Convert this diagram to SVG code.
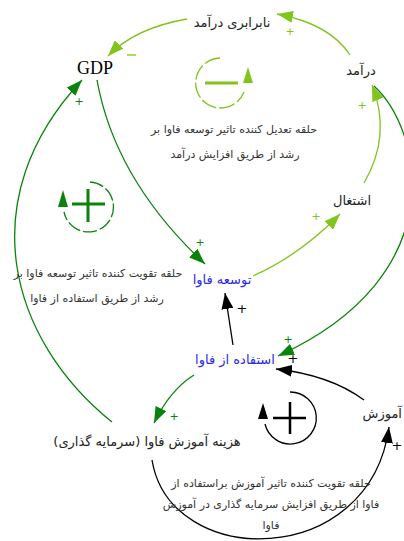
<svg xmlns="http://www.w3.org/2000/svg" width="404" height="541" viewBox="0 0 404 541">
<defs>
<style>
.e{fill:none;stroke-width:1.3}
.yg{stroke:#80c41c}
.dg{stroke:#0a830a}
.bk{stroke:#000}
.n{font-family:"DejaVu Sans",sans-serif;font-size:13px;fill:#222;text-anchor:middle}
.b{fill:#2a2ae8}
.lt{font-family:"DejaVu Sans",sans-serif;font-size:11px;fill:#333;text-anchor:middle}
.pl{font-family:"DejaVu Sans",sans-serif;text-anchor:middle}
</style>
<marker id="ayg" viewBox="0 0 16 12" refX="16" refY="6" markerWidth="16" markerHeight="12" markerUnits="userSpaceOnUse" orient="auto"><path d="M0,0 L16,6 L0,12 z" fill="#80c41c"/></marker>
<marker id="adg" viewBox="0 0 16 12" refX="16" refY="6" markerWidth="16" markerHeight="12" markerUnits="userSpaceOnUse" orient="auto"><path d="M0,0 L16,6 L0,12 z" fill="#0a830a"/></marker>
<marker id="abk" viewBox="0 0 16 12" refX="16" refY="6" markerWidth="16" markerHeight="12" markerUnits="userSpaceOnUse" orient="auto"><path d="M0,0 L16,6 L0,12 z" fill="#000"/></marker>
</defs>
<rect width="404" height="541" fill="#fff"/>

<g id="connectors">
<path class="e yg" d="M350,55 Q330,24 277,14" marker-end="url(#ayg)"/>
<path class="e yg" d="M187,19 Q135,28 108,56" marker-end="url(#ayg)"/>
<path class="e dg" d="M97,80 Q115,180 205,264" marker-end="url(#adg)"/>
<path class="e yg" d="M253,276 Q300,255 340,214" marker-end="url(#ayg)"/>
<path class="e yg" d="M364,183 Q392,135 372,85" marker-end="url(#ayg)"/>
<path class="e dg" d="M374,86 C422,130 455,275 278,356" marker-end="url(#adg)"/>
<path class="e bk" d="M233,345 L225,293" marker-end="url(#abk)"/>
<path class="e bk" d="M364,400 Q330,375 276,369" marker-end="url(#abk)"/>
<path class="e bk" d="M152,460 C170,570 370,570 389,427" marker-end="url(#abk)"/>
<path class="e dg" d="M194,375 Q170,390 154,423" marker-end="url(#adg)"/>
<path class="e dg" d="M112,422 C10,340 -30,200 82,80" marker-end="url(#adg)"/>
<g class="pl">
<text x="290" y="35" font-size="11" fill="#80c41c">+</text>
<line x1="127" y1="55" x2="136" y2="55" stroke="#80c41c" stroke-width="1.3"/>
<text x="200" y="246" font-size="11" fill="#0a830a">+</text>
<text x="316" y="220" font-size="11" fill="#80c41c">+</text>
<text x="362" y="109" font-size="11" fill="#80c41c">+</text>
<text x="288" y="343" font-size="11" fill="#0a830a">+</text>
<text x="293" y="363" font-size="13" fill="#000">+</text>
<text x="242" y="313" font-size="13" fill="#000">+</text>
<text x="397" y="450" font-size="13" fill="#000">+</text>
<text x="174" y="420" font-size="11" fill="#0a830a">+</text>
<text x="79" y="105" font-size="11" fill="#0a830a">+</text>
</g>
</g>

<g id="loop-balancing">
<path d="M220,58 A25,25 0 1,0 244,92" fill="none" stroke="#80c41c" stroke-width="1.3" stroke-dasharray="16 3"/>
<polygon points="248,67 253,83 243,83" fill="#80c41c"/>
<line x1="205" y1="83" x2="238" y2="83" stroke="#80c41c" stroke-width="3"/>
<text class="lt" x="234" y="133">حلقه تعدیل کننده تاثیر توسعه فاوا بر</text>
<text class="lt" x="235" y="158">رشد از طریق افزایش درآمد</text>
</g>

<g id="loop-reinforcing-1">
<path d="M90,182 A25,25 0 1,1 64,212" fill="none" stroke="#0a830a" stroke-width="1.3" stroke-dasharray="14 3"/>
<polygon points="63,190 68,207 58,207" fill="#0a830a"/>
<line x1="72" y1="204" x2="105" y2="204" stroke="#0a830a" stroke-width="3"/>
<line x1="88" y1="189" x2="88" y2="222" stroke="#0a830a" stroke-width="3"/>
<text class="lt" x="98" y="277">حلقه تقویت کننده تاثیر توسعه فاوا بر</text>
<text class="lt" x="97" y="302">رشد از طریق استفاده از فاوا</text>
</g>

<g id="loop-reinforcing-2">
<path d="M290,392 A26,26 0 1,1 265,424" fill="none" stroke="#000" stroke-width="1.3"/>
<polygon points="263,403 268,419 258,419" fill="#000"/>
<line x1="273" y1="418" x2="306" y2="418" stroke="#000" stroke-width="2.5"/>
<line x1="290" y1="402" x2="290" y2="434" stroke="#000" stroke-width="2.5"/>
<text class="lt" x="271" y="487">حلقه تقویت کننده تاثیر آموزش براستفاده از</text>
<text class="lt" x="271" y="508">فاوا از طریق افزایش سرمایه گذاری در آموزش</text>
<text class="lt" x="271" y="529">فاوا</text>
</g>

<g id="node-nabarabari"><text class="n" x="232" y="27">نابرابری درآمد</text></g>
<g id="node-gdp"><text x="77" y="74" font-family="Liberation Serif, serif" font-size="18" fill="#000">GDP</text></g>
<g id="node-daramad"><text class="n" x="361" y="75">درآمد</text></g>
<g id="node-eshteghal"><text class="n" x="352" y="205">اشتغال</text></g>
<g id="node-tosee"><text class="n b" x="222" y="284">توسعه فاوا</text></g>
<g id="node-estefade"><text class="n b" x="235" y="364">استفاده از فاوا</text></g>
<g id="node-hazine"><text class="n" x="147" y="446">هزینه آموزش فاوا (سرمایه گذاری)</text></g>
<g id="node-amoozesh"><text class="n" x="402" y="418" style="text-anchor:end">آموزش</text></g>
</svg>
